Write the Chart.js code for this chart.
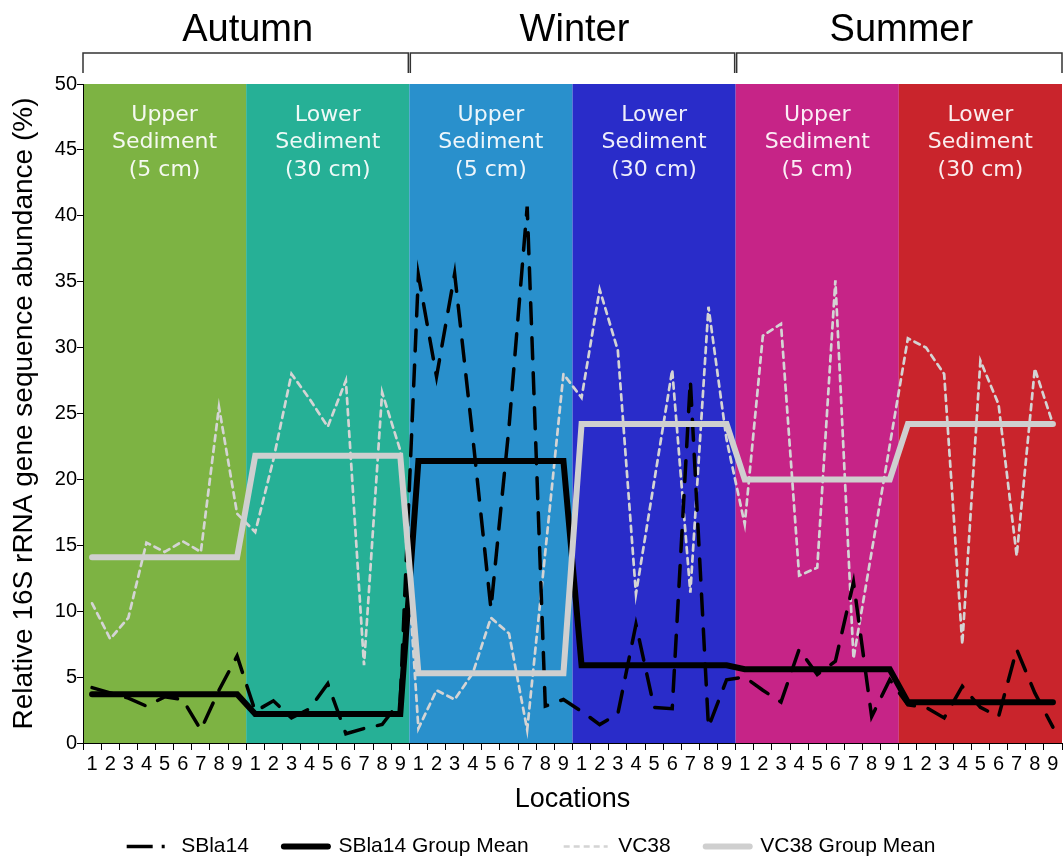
<!DOCTYPE html>
<html lang="en">
<head>
<meta charset="UTF-8">
<title>SBla14 / VC38</title>
<script src="https://cdn.jsdelivr.net/npm/chart.js@4"></script>
<style>
  html, body { margin: 0; padding: 0; background: #fff; }
</style>
</head>
<body>
<canvas id="grafico" width="1063" height="856"></canvas>
<script>
  // locations 1-9 in each sediment group
  const locais = ["1", "2", "3", "4", "5", "6", "7", "8", "9"];
  const estacoes = ["Autumn", "Winter", "Summer"];
  const faixas = [
    ["Upper", "Sediment", "(5 cm)"],
    ["Lower", "Sediment", "(30 cm)"],
    ["Upper", "Sediment", "(5 cm)"],
    ["Lower", "Sediment", "(30 cm)"],
    ["Upper", "Sediment", "(5 cm)"],
    ["Lower", "Sediment", "(30 cm)"],
  ];
  const coresFaixa = ["#7db343", "#26b096", "#2990cc", "#292cc9", "#c62487", "#c9242c"];

  const sbla14 = [
    4.2, 3.8, 3.4, 2.8, 3.5, 3.3, 1.0, 4.0, 6.6,
    2.4, 3.2, 1.9, 2.6, 4.5, 0.7, 1.1, 1.4, 3.2,
    35.5, 27.8, 35.6, 23.2, 10.2, 24.0, 40.7, 2.8, 3.3,
    2.4, 1.4, 2.2, 9.0, 2.7, 2.6, 27.5, 1.2, 4.8,
    5.0, 4.0, 3.1, 7.1, 5.2, 6.2, 12.2, 2.0, 4.8,
    2.9, 2.7, 1.9, 4.3, 2.7, 2.0, 7.1, 3.8, 1.2,
  ];
  const vc38 = [
    10.6, 7.9, 9.5, 15.2, 14.5, 15.3, 14.5, 25.5, 17.4,
    16.0, 21.5, 28.0, 26.1, 24.0, 27.5, 5.9, 26.6, 22.2,
    1.1, 4.0, 3.3, 5.3, 9.5, 8.3, 1.0, 14.5, 28.0,
    26.2, 34.4, 29.8, 11.3, 19.8, 28.3, 11.4, 33.1, 23.0,
    16.6, 30.9, 31.8, 12.7, 13.3, 35.1, 6.4, 14.5, 22.6,
    30.7, 30.0, 28.0, 7.5, 29.0, 25.7, 14.2, 28.4, 24.2,
  ];
  const mediaSbla14 = [3.7, 2.2, 21.4, 5.9, 5.6, 3.1];
  const mediaVc38 = [14.1, 21.8, 5.3, 24.2, 20.0, 24.2];

  const rotulos = [];
  for (let g = 0; g < faixas.length; g++) {
    for (let i = 0; i < locais.length; i++) rotulos.push(locais[i]);
  }

  function expandir(medias) {
    const r = [];
    medias.forEach((m) => {
      for (let i = 0; i < locais.length; i++) r.push(m);
    });
    return r;
  }

  const fonte = "'Liberation Sans', Arial, sans-serif";
  Chart.defaults.font.family = fonte;
  Chart.defaults.color = "#000";

  // coloured bands, band captions, season brackets
  const fundo = {
    id: "fundo",
    beforeDraw(chart) {
      const { ctx, chartArea: a, scales: { x } } = chart;
      const passo = x.getPixelForValue(1) - x.getPixelForValue(0);
      ctx.save();
      for (let g = 0; g < faixas.length; g++) {
        const x0 = x.getPixelForValue(g * 9) - passo / 2;
        const x1 = x.getPixelForValue(g * 9 + 8) + passo / 2;
        ctx.fillStyle = coresFaixa[g];
        ctx.fillRect(x0, a.top, x1 - x0, a.bottom - a.top);
        ctx.fillStyle = "rgba(255,255,255,0.92)";
        ctx.font = "22px 'DejaVu Sans'";
        ctx.textAlign = "center";
        ctx.textBaseline = "middle";
        faixas[g].forEach((t, i) => ctx.fillText(t, (x0 + x1) / 2, a.top + 31 + i * 27.5));
      }
      ctx.restore();
    },
    afterDraw(chart) {
      const { ctx, chartArea: a, scales: { x } } = chart;
      const passo = x.getPixelForValue(1) - x.getPixelForValue(0);
      ctx.save();
      ctx.strokeStyle = "#333";
      ctx.lineWidth = 1.5;
      for (let s = 0; s < estacoes.length; s++) {
        const x0 = x.getPixelForValue(s * 18) - passo / 2 + (s > 0 ? 1 : 0);
        const x1 = x.getPixelForValue(s * 18 + 17) + passo / 2 - (s < 2 ? 1 : 0);
        ctx.beginPath();
        ctx.moveTo(x0, a.top - 11);
        ctx.lineTo(x0, a.top - 31);
        ctx.lineTo(x1, a.top - 31);
        ctx.lineTo(x1, a.top - 11);
        ctx.stroke();
        ctx.fillStyle = "#000";
        ctx.font = "38px " + fonte;
        ctx.textAlign = "center";
        ctx.textBaseline = "alphabetic";
        ctx.fillText(estacoes[s], (x0 + x1) / 2 + 2, a.top - 43);
      }
      ctx.restore();
    },
  };

  new Chart(document.getElementById("grafico"), {
    type: "line",
    data: {
      labels: rotulos,
      datasets: [
        {
          label: "SBla14",
          data: sbla14,
          borderColor: "#000",
          borderWidth: 3.5,
          borderDash: [21, 14],
          borderCapStyle: "round",
          order: 2,
        },
        {
          label: "SBla14 Group Mean",
          data: expandir(mediaSbla14),
          borderColor: "#000",
          borderWidth: 6,
          borderCapStyle: "round",
          order: 1,
        },
        {
          label: "VC38",
          data: vc38,
          borderColor: "#d4d4d4",
          borderWidth: 2.7,
          borderDash: [6, 5],
          borderCapStyle: "round",
          order: 3,
        },
        {
          label: "VC38 Group Mean",
          data: expandir(mediaVc38),
          borderColor: "#cfcfcf",
          borderWidth: 6,
          borderCapStyle: "round",
          order: 0,
        },
      ],
    },
    options: {
      responsive: false,
      animation: false,
      layout: { padding: { top: 84, right: 1, left: 0, bottom: -11 } },
      elements: {
        point: { radius: 0, hoverRadius: 0 },
        line: { tension: 0, fill: false },
      },
      plugins: {
        tooltip: { enabled: false },
        legend: {
          position: "bottom",
          labels: {
            usePointStyle: true,
            pointStyle: "line",
            pointStyleWidth: 44,
            padding: 35,
            color: "#000",
            font: { size: 21 },
            sort: (a, b) => a.datasetIndex - b.datasetIndex,
            generateLabels(chart) {
              const itens = Chart.defaults.plugins.legend.labels.generateLabels(chart);
              itens.forEach((it) => {
                it.pointStyle = "line";
                it.lineCap = "butt";
                if (it.datasetIndex === 0) it.lineDash = [26, 9, 3, 40];
                if (it.datasetIndex === 2) it.lineDash = [6, 4];
                if (it.datasetIndex === 1 || it.datasetIndex === 3) it.lineCap = "round";
              });
              return itens;
            },
          },
        },
      },
      scales: {
        x: {
          offset: true,
          grid: { offset: true, drawOnChartArea: false, tickLength: 7, color: "#000" },
          border: { color: "#000", width: 1 },
          ticks: { autoSkip: false, maxRotation: 0, padding: 2, color: "#000", font: { size: 20 } },
          title: {
            display: true,
            text: "Locations",
            color: "#000",
            font: { size: 27 },
            padding: { top: 0, bottom: -15 },
          },
          afterFit(s) {
            s.height = 58;
          },
        },
        y: {
          min: 0,
          max: 50,
          ticks: { stepSize: 5, padding: 0, color: "#000", font: { size: 20 } },
          grid: { drawOnChartArea: false, tickLength: 6, color: "#000" },
          border: { color: "#000", width: 1 },
          title: {
            display: true,
            text: "Relative 16S rRNA gene sequence abundance (%)",
            color: "#000",
            font: { size: 28 },
            padding: { top: 7, bottom: 0 },
          },
          afterFit(s) {
            s.width = 83;
          },
        },
      },
    },
    plugins: [fundo],
  });
</script>
</body>
</html>
